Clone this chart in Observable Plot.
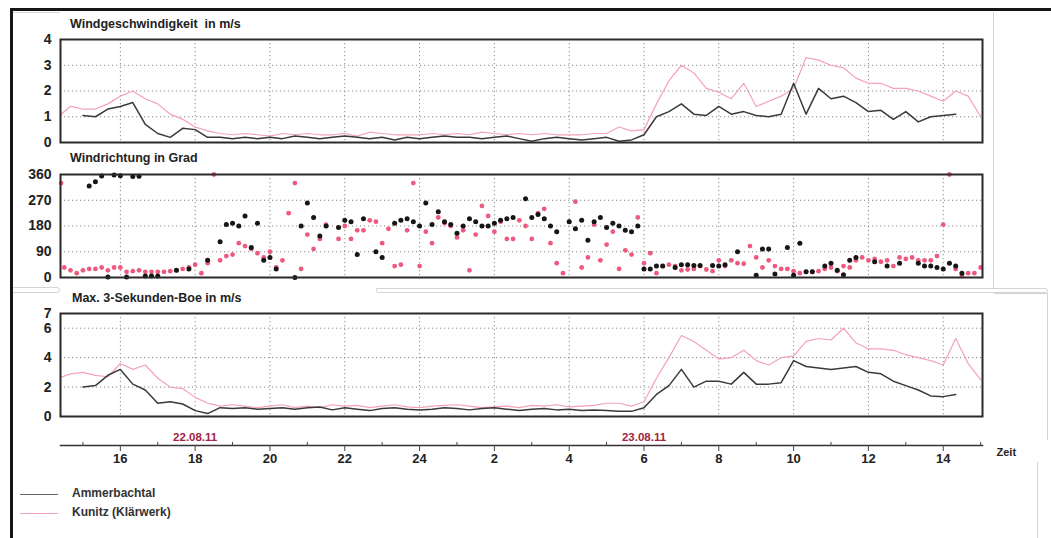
<!DOCTYPE html>
<html><head><meta charset="utf-8">
<script src="https://cdn.jsdelivr.net/npm/d3@7"></script>
<script src="https://cdn.jsdelivr.net/npm/@observablehq/plot@0.6"></script>
<style>
html,body{margin:0;padding:0;background:#fff;}
#chart{position:relative;width:1051px;height:538px;overflow:hidden;font-family:"Liberation Sans",Arial,sans-serif;font-weight:bold;color:#222;}
.title{position:absolute;font-size:12.5px;white-space:pre;color:#222;}
.deco{position:absolute;box-sizing:border-box;}
.leg{position:absolute;font-size:12px;color:#333;}
.legline{position:absolute;height:0;width:38px;}
</style></head><body><div id="chart"></div>
<script>
// ---------- data ----------
const serien = ["Ammerbachtal", "Kunitz (Klärwerk)"];
const xStart = "22 14:24", xEnd = "23 15:03";

const zeit = ["22 14:20","22 14:40","22 15:00","22 15:20","22 15:40","22 16:00","22 16:20","22 16:40","22 17:00","22 17:20","22 17:40","22 18:00","22 18:20","22 18:40","22 19:00","22 19:20","22 19:40","22 20:00","22 20:20","22 20:40","22 21:00","22 21:20","22 21:40","22 22:00","22 22:20","22 22:40","22 23:00","22 23:20","22 23:40","23 00:00","23 00:20","23 00:40","23 01:00","23 01:20","23 01:40","23 02:00","23 02:20","23 02:40","23 03:00","23 03:20","23 03:40","23 04:00","23 04:20","23 04:40","23 05:00","23 05:20","23 05:40","23 06:00","23 06:20","23 06:40","23 07:00","23 07:20","23 07:40","23 08:00","23 08:20","23 08:40","23 09:00","23 09:20","23 09:40","23 10:00","23 10:20","23 10:40","23 11:00","23 11:20","23 11:40","23 12:00","23 12:20","23 12:40","23 13:00","23 13:20","23 13:40","23 14:00","23 14:20","23 14:40","23 15:00"];

const speedKunitz = [1.0,1.4,1.3,1.3,1.5,1.8,2.0,1.7,1.5,1.1,
 0.9,0.6,0.45,0.35,0.3,0.35,0.3,0.25,0.35,0.3,
 0.35,0.3,0.3,0.35,0.25,0.4,0.35,0.3,0.3,0.3,
 0.35,0.3,0.35,0.3,0.4,0.35,0.3,0.35,0.3,0.35,
 0.3,0.3,0.3,0.35,0.35,0.6,0.45,0.5,1.5,2.4,
 3.0,2.7,2.1,1.95,1.7,2.3,1.4,1.6,1.8,2.1,
 3.3,3.2,3.0,2.9,2.5,2.3,2.3,2.1,2.1,2.0,
 1.8,1.6,2.0,1.8,1.0];
const speedAmmer = [null,null,1.05,1.0,1.3,1.4,1.55,0.7,0.35,0.2,
 0.55,0.5,0.2,0.2,0.15,0.2,0.15,0.2,0.15,0.25,
 0.2,0.15,0.2,0.25,0.2,0.15,0.2,0.1,0.2,0.15,
 0.2,0.25,0.2,0.2,0.15,0.2,0.25,0.15,0.05,0.15,
 0.2,0.15,0.1,0.15,0.2,0.05,0.1,0.3,1.0,1.2,
 1.5,1.1,1.05,1.4,1.1,1.2,1.05,1.0,1.1,2.3,
 1.1,2.1,1.7,1.8,1.55,1.2,1.25,0.9,1.2,0.8,
 1.0,1.05,1.1,null,null];
const boeKunitz = [2.6,2.9,3.0,2.8,2.7,3.6,3.2,3.5,2.6,2.0,
 1.9,1.3,0.9,0.7,0.8,0.7,0.6,0.7,0.8,0.6,
 0.7,0.6,0.8,0.7,0.75,0.6,0.7,0.8,0.65,0.6,
 0.7,0.75,0.8,0.7,0.6,0.65,0.7,0.6,0.75,0.7,
 0.8,0.65,0.7,0.75,0.9,0.9,0.7,1.0,2.6,4.0,
 5.5,5.1,4.5,3.9,4.0,4.5,3.8,3.5,4.0,4.1,
 5.1,5.3,5.2,6.0,5.0,4.6,4.6,4.5,4.2,4.0,
 3.8,3.5,5.3,3.6,2.5];
const boeAmmer = [null,null,2.0,2.1,2.8,3.2,2.2,1.8,0.9,1.0,
 0.85,0.4,0.2,0.6,0.55,0.6,0.5,0.55,0.6,0.5,
 0.6,0.65,0.45,0.6,0.5,0.4,0.55,0.6,0.5,0.45,
 0.5,0.6,0.55,0.45,0.55,0.6,0.5,0.4,0.5,0.55,
 0.45,0.5,0.4,0.45,0.4,0.35,0.35,0.6,1.5,2.1,
 3.2,2.0,2.4,2.4,2.2,3.0,2.2,2.2,2.3,3.8,
 3.4,3.3,3.2,3.3,3.4,3.0,2.9,2.4,2.1,1.8,
 1.4,1.35,1.5,null,null];

const richtungAmmer = [["22 15:10",320],["22 15:20",335],["22 15:30",355],["22 15:40",2],["22 15:50",358],["22 16:00",356],["22 16:10",2],["22 16:20",353],["22 16:30",354],["22 16:40",5],["22 16:50",5],["22 17:00",5],["22 17:30",25],["22 17:50",30],["22 18:20",60],["22 18:40",125],["22 18:50",185],["22 19:00",190],["22 19:10",180],["22 19:20",215],["22 19:30",105],["22 19:40",190],["22 19:50",60],["22 20:00",70],["22 20:10",30],["22 20:40",0],["22 20:50",180],["22 21:00",260],["22 21:10",210],["22 21:20",145],["22 21:30",180],["22 21:50",175],["22 22:00",200],["22 22:10",195],["22 22:20",80],["22 22:30",205],["22 22:50",90],["22 23:00",70],["22 23:20",190],["22 23:30",200],["22 23:40",205],["22 23:50",195],["23 00:00",180],["23 00:10",260],["23 00:20",185],["23 00:30",230],["23 00:40",195],["23 00:50",185],["23 01:00",155],["23 01:10",180],["23 01:20",205],["23 01:30",195],["23 01:40",180],["23 01:50",180],["23 02:00",190],["23 02:10",200],["23 02:20",205],["23 02:30",210],["23 02:50",275],["23 03:00",210],["23 03:10",220],["23 03:20",205],["23 03:30",180],["23 03:40",160],["23 04:00",195],["23 04:10",170],["23 04:20",200],["23 04:30",130],["23 04:40",195],["23 04:50",210],["23 05:00",175],["23 05:10",190],["23 05:20",180],["23 05:30",165],["23 05:40",160],["23 05:50",180],["23 06:00",30],["23 06:10",30],["23 06:20",40],["23 06:30",40],["23 06:50",35],["23 07:00",45],["23 07:10",45],["23 07:20",42],["23 07:30",42],["23 07:50",42],["23 08:00",40],["23 08:10",45],["23 08:30",90],["23 09:00",8],["23 09:10",100],["23 09:20",100],["23 09:30",12],["23 09:50",105],["23 10:00",8],["23 10:10",120],["23 10:20",20],["23 10:30",20],["23 10:50",40],["23 11:00",50],["23 11:10",25],["23 11:20",10],["23 11:30",60],["23 11:40",70],["23 12:10",55],["23 12:30",40],["23 12:50",50],["23 13:20",50],["23 13:30",40],["23 13:40",40],["23 13:50",35],["23 14:00",30],["23 14:10",50],["23 14:20",40],["23 14:30",15]];

const richtungKunitz = [["22 14:25",330],["22 14:30",35],["22 14:40",25],["22 14:50",15],["22 15:00",25],["22 15:10",30],["22 15:20",30],["22 15:30",35],["22 15:40",25],["22 15:50",35],["22 16:00",35],["22 16:10",20],["22 16:20",22],["22 16:30",25],["22 16:40",20],["22 16:50",20],["22 17:00",20],["22 17:10",20],["22 17:20",22],["22 17:30",25],["22 17:40",30],["22 17:50",35],["22 18:00",45],["22 18:10",15],["22 18:20",50],["22 18:30",360],["22 18:40",60],["22 18:50",75],["22 19:00",80],["22 19:10",120],["22 19:20",110],["22 19:30",100],["22 19:40",85],["22 19:50",70],["22 20:00",90],["22 20:10",35],["22 20:20",60],["22 20:30",225],["22 20:40",330],["22 20:50",30],["22 21:00",150],["22 21:10",100],["22 21:20",135],["22 21:30",185],["22 21:50",135],["22 22:00",180],["22 22:10",135],["22 22:20",165],["22 22:30",165],["22 22:40",200],["22 22:50",195],["22 23:00",120],["22 23:10",170],["22 23:20",40],["22 23:30",45],["22 23:40",165],["22 23:50",330],["23 00:00",40],["23 00:10",160],["23 00:20",120],["23 00:30",210],["23 00:40",190],["23 00:50",180],["23 01:00",140],["23 01:10",165],["23 01:20",25],["23 01:30",150],["23 01:40",250],["23 01:50",215],["23 02:00",160],["23 02:10",195],["23 02:20",135],["23 02:30",135],["23 02:40",200],["23 02:50",180],["23 03:00",135],["23 03:10",225],["23 03:20",240],["23 03:30",120],["23 03:40",50],["23 03:50",15],["23 04:00",195],["23 04:10",265],["23 04:20",35],["23 04:30",70],["23 04:40",185],["23 04:50",60],["23 05:00",115],["23 05:10",160],["23 05:20",30],["23 05:30",95],["23 05:40",80],["23 05:50",210],["23 06:00",50],["23 06:10",85],["23 06:20",15],["23 06:30",40],["23 06:40",45],["23 06:50",40],["23 07:00",25],["23 07:10",28],["23 07:20",30],["23 07:30",40],["23 07:40",28],["23 07:50",22],["23 08:00",60],["23 08:10",40],["23 08:20",60],["23 08:30",50],["23 08:40",48],["23 08:50",110],["23 09:00",70],["23 09:10",35],["23 09:20",60],["23 09:30",40],["23 09:40",30],["23 09:50",30],["23 10:00",22],["23 10:10",15],["23 10:20",20],["23 10:30",20],["23 10:40",22],["23 10:50",30],["23 11:00",35],["23 11:10",22],["23 11:20",40],["23 11:30",35],["23 11:40",60],["23 11:50",70],["23 12:00",60],["23 12:10",65],["23 12:20",55],["23 12:30",60],["23 12:40",40],["23 12:50",70],["23 13:00",65],["23 13:10",70],["23 13:20",60],["23 13:30",60],["23 13:40",60],["23 13:50",75],["23 14:00",185],["23 14:10",360],["23 14:20",30],["23 14:30",5],["23 14:40",15],["23 14:50",15],["23 15:00",35]];

const achsenZeiten = ["22 16:00","22 18:00","22 20:00","22 22:00","23 00:00","23 02:00","23 04:00","23 06:00","23 08:00","23 10:00","23 12:00","23 14:00"];
const achsenLabels = ["16","18","20","22","24","2","4","6","8","10","12","14"];
const zwischenZeiten = ["22 15:00","22 17:00","22 19:00","22 21:00","22 23:00","23 01:00","23 03:00","23 05:00","23 07:00","23 09:00","23 11:00","23 13:00","23 15:00"];
const datumZeiten = ["22 18:00","23 06:00"];
const datumLabels = ["22.08.11","23.08.11"];

const speedTicks = [0,1,2,3,4], speedGrid = [1,2,3];
const richtungTicks = [0,90,180,270,360], richtungGrid = [90,180,270];
const boeTicks = [0,2,4,6,7], boeGrid = [2,4,6];

const titel = ["Windgeschwindigkeit  in m/s", "Windrichtung in Grad", "Max. 3-Sekunden-Boe in m/s"];

// ---------- helpers ----------
function stunde(s){ const [d, hm] = s.split(" "); const [h, m] = hm.split(":").map(Number); return (+d - 22) * 24 + h + m / 60; }
const xDomain = [stunde(xStart), stunde(xEnd)];
const major = achsenZeiten.map(stunde);
const minor = zwischenZeiten.map(stunde);
const BLACK = "#3a3a3a", PINK = "#f4a2b4", DOTB = "#161616", DOTP = "#ee5a7e";
const style = {background: "transparent", overflow: "visible", fontFamily: "'Liberation Sans', Arial, sans-serif", fontWeight: "bold", color: "#222"};
const chart = document.getElementById("chart");

function rows(vals){ return zeit.map((t, i) => ({x: stunde(t), y: vals[i]})); }
function pts(list){ return list.map(([t, v]) => ({x: stunde(t), y: v})); }

function place(el, top){ el.style.position = "absolute"; el.style.left = "0px"; el.style.top = top + "px"; chart.appendChild(el); }

const gridStyle = {stroke: "#888", strokeOpacity: 1, strokeWidth: 1, strokeDasharray: "1.2,2.8"};

function panel(top, yDomain, ticks, grid, marks){
  const svg = Plot.plot({
    width: 1051, height: 113, marginLeft: 60, marginRight: 69, marginTop: 5, marginBottom: 5,
    x: {domain: xDomain, axis: null},
    y: {domain: yDomain, axis: null},
    style,
    marks: [
      Plot.ruleY(grid, gridStyle),
      Plot.ruleX(major, gridStyle),
      ...marks,
      Plot.frame({stroke: "#2a2a2a", strokeWidth: 2}),
      Plot.axisY(ticks, {label: null, tickSize: 0, tickPadding: 9, fontSize: 14, fontWeight: "bold", fill: "#222"})
    ]
  });
  place(svg, top - 5);
}

// decorations (scanned panel boxes)
function deco(css){ const d = document.createElement("div"); d.className = "deco"; Object.assign(d.style, css); chart.appendChild(d); }
deco({left: "376px", top: "12px", width: "618px", height: "277px", borderRight: "1px solid #d4d4d4", borderBottom: "1px solid #d4d4d4"});
deco({left: "376px", top: "288px", width: "672px", height: "5px", border: "1px solid #d4d4d4", borderRadius: "3px"});
deco({left: "994px", top: "293px", width: "54px", height: "147px", borderTop: "1px solid #d4d4d4", borderRight: "1px solid #d4d4d4"});
deco({left: "11px", top: "287px", width: "49px", height: "6px", border: "1px solid #d4d4d4", borderRadius: "3px"});
deco({left: "12px", top: "12px", width: "48px", height: "2px", borderTop: "1px solid #d4d4d4"});
deco({left: "1037px", top: "462px", width: "2px", height: "80px", borderLeft: "1px solid #d4d4d4"});
deco({left: "10px", top: "8px", width: "1045px", height: "540px", borderTop: "3px solid #151515", borderLeft: "3px solid #151515"});

// panel 1: wind speed
panel(39, [0, 4], speedTicks, speedGrid, [
  Plot.line(rows(speedKunitz), {x: "x", y: "y", stroke: PINK, strokeWidth: 1.2, clip: true}),
  Plot.line(rows(speedAmmer), {x: "x", y: "y", stroke: BLACK, strokeWidth: 1.5, clip: true})
]);
// panel 2: wind direction
panel(174, [0, 360], richtungTicks, richtungGrid, [
  Plot.dot(pts(richtungKunitz), {x: "x", y: "y", fill: DOTP, r: 2.4}),
  Plot.dot(pts(richtungAmmer), {x: "x", y: "y", fill: DOTB, r: 2.5})
]);
// panel 3: gusts
panel(313, [0, 7], boeTicks, boeGrid, [
  Plot.line(rows(boeKunitz), {x: "x", y: "y", stroke: PINK, strokeWidth: 1.2, clip: true}),
  Plot.line(rows(boeAmmer), {x: "x", y: "y", stroke: BLACK, strokeWidth: 1.5, clip: true})
]);

// time axis
const axis = Plot.plot({
  width: 1051, height: 55, marginLeft: 60, marginRight: 69, marginTop: 20, marginBottom: 35,
  x: {domain: xDomain, axis: null},
  style,
  marks: [
    Plot.frame({anchor: "bottom", stroke: "#333", strokeWidth: 1.5}),
    Plot.axisX(major, {anchor: "bottom", label: null, tickSize: 6, tickPadding: 2, fontSize: 13, fontWeight: "bold", stroke: "#444",
      tickFormat: d => achsenLabels[major.indexOf(d)]}),
    Plot.axisX(minor, {anchor: "top", label: null, tickSize: 4, stroke: "#444", tickFormat: () => ""}),
    Plot.text(datumZeiten.map((t, i) => ({x: stunde(t), label: datumLabels[i]})),
      {x: "x", text: "label", frameAnchor: "top", dy: -13, fill: "#a3233f", fontSize: 11.5, fontWeight: "bold"}),
    Plot.text(["Zeit"], {frameAnchor: "right", textAnchor: "start", dx: 14, dy: 7, fontSize: 11, fontWeight: "bold", fill: "#222"})
  ]
});
place(axis, 425);

// titles
[[titel[0], 70, 17], [titel[1], 70, 151], [titel[2], 72, 291]].forEach(([t, l, tp]) => {
  const d = document.createElement("div"); d.className = "title"; d.textContent = t;
  d.style.left = l + "px"; d.style.top = tp + "px"; chart.appendChild(d);
});

// legend
[[serien[0], "#666", 494], [serien[1], PINK, 513]].forEach(([name, col, y]) => {
  const ln = document.createElement("div"); ln.className = "legline";
  ln.style.left = "20px"; ln.style.top = y + "px"; ln.style.borderTop = "1.3px solid " + col; chart.appendChild(ln);
  const tx = document.createElement("div"); tx.className = "leg"; tx.textContent = name;
  tx.style.left = "72px"; tx.style.top = (y - 8) + "px"; chart.appendChild(tx);
});
</script></body></html>
